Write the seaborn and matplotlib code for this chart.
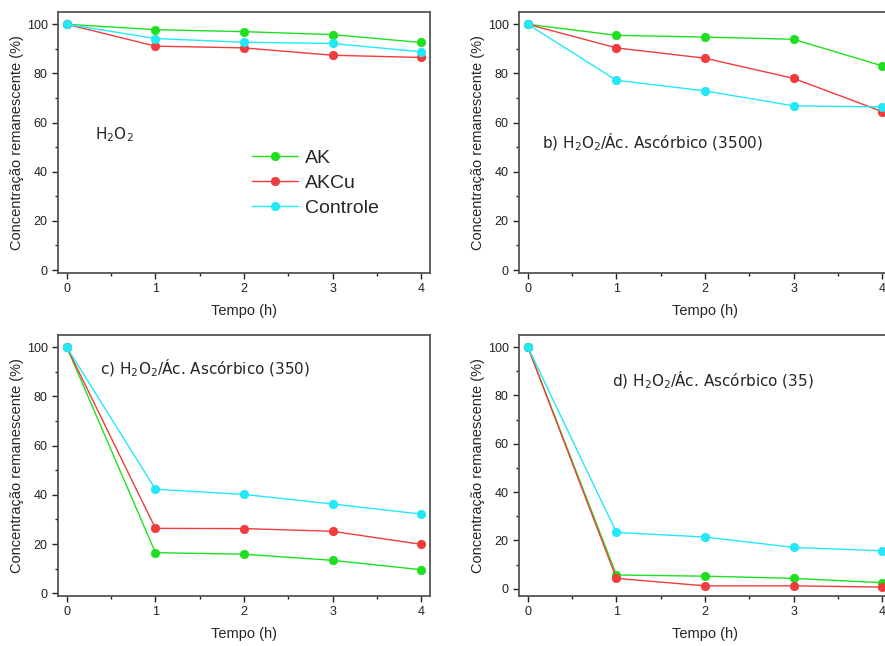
"""Concentração remanescente vs tempo - quatro condições"""

import matplotlib
matplotlib.use('Agg')
import matplotlib.pyplot as plt
from matplotlib.ticker import MultipleLocator
import pandas as pd
import seaborn as sns

tempo = [0, 1, 2, 3, 4]
amostras = ['AK', 'AKCu', 'Controle']
cores = {'AK': '#1fe01f', 'AKCu': '#f03c3c', 'Controle': '#22e8f8'}

# a) H2O2
a_ak = [100, 97.8, 97.0, 95.8, 92.6]
a_akcu = [100, 91.1, 90.4, 87.4, 86.5]
a_controle = [100, 94.2, 92.7, 92.2, 88.8]
# b) H2O2/Ác. Ascórbico (3500)
b_ak = [100, 95.5, 94.8, 93.9, 83.1]
b_akcu = [100, 90.4, 86.2, 78.0, 64.5]
b_controle = [100, 77.2, 72.9, 66.8, 66.4]
# c) H2O2/Ác. Ascórbico (350)
c_ak = [100, 16.5, 15.9, 13.4, 9.6]
c_akcu = [100, 26.4, 26.3, 25.2, 19.9]
c_controle = [100, 42.3, 40.2, 36.3, 32.2]
# d) H2O2/Ác. Ascórbico (35)
d_ak = [100, 5.7, 5.2, 4.3, 2.5]
d_akcu = [100, 4.3, 1.2, 1.2, 0.7]
d_controle = [100, 23.3, 21.4, 17.1, 15.7]

paineis = [
    (a_ak, a_akcu, a_controle, r'H$_2$O$_2$'),
    (b_ak, b_akcu, b_controle, r'b) H$_2$O$_2$/Ác. Ascórbico (3500)'),
    (c_ak, c_akcu, c_controle, r'c) H$_2$O$_2$/Ác. Ascórbico (350)'),
    (d_ak, d_akcu, d_controle, r'd) H$_2$O$_2$/Ác. Ascórbico (35)'),
]

sns.set_style('white')
plt.rcParams['font.family'] = ['Liberation Sans', 'DejaVu Sans']
plt.rcParams['mathtext.default'] = 'regular'

W, H = 885, 646
fig = plt.figure(figsize=(W / 100, H / 100), dpi=100)

# axes boxes in pixels: left, top, right, bottom
caixas = [(58, 12, 430, 273), (519, 12, 891, 273),
          (58, 335, 430, 596), (519, 335, 891, 596)]
ylims = [(-1.2, 105), (-1.2, 105), (-1.1, 105), (-3, 105)]
textos = [(95, 135), (542, 142), (100, 368), (612, 380)]

for i, (ak, akcu, controle, rotulo) in enumerate(paineis):
    l, t, r, b = caixas[i]
    ax = fig.add_axes([l / W, 1 - b / H, (r - l) / W, (b - t) / H])
    df = pd.DataFrame({
        'Tempo': tempo * 3,
        'Valor': ak + akcu + controle,
        'Amostra': [n for n in amostras for _ in tempo],
    })
    sns.lineplot(data=df, x='Tempo', y='Valor', hue='Amostra',
                 palette=cores, marker='o', markersize=6, linewidth=1,
                 markeredgewidth=0.6, ax=ax, legend=(i == 0))
    for linha in ax.lines:
        linha.set_markeredgecolor(linha.get_color())
    ax.set_xlim(-0.1, 4.1)
    ax.set_ylim(*ylims[i])
    ax.xaxis.set_major_locator(MultipleLocator(1))
    ax.xaxis.set_minor_locator(MultipleLocator(0.5))
    ax.yaxis.set_major_locator(MultipleLocator(20))
    ax.yaxis.set_minor_locator(MultipleLocator(10))
    ax.tick_params(which='both', direction='out', bottom=True, left=True,
                   colors='#222222', labelsize=9)
    ax.tick_params(which='major', length=4, width=1)
    ax.tick_params(which='minor', length=2.5, width=1)
    for sp in ax.spines.values():
        sp.set_color('#555555')
        sp.set_linewidth(1.3)
    ax.set_xlabel('Tempo (h)', fontsize=10.5, labelpad=6)
    ax.set_ylabel('Concentração remanescente (%)', fontsize=10.5, labelpad=2)
    tx, ty = textos[i]
    fig.text(tx / W, 1 - ty / H, rotulo, fontsize=11, va='center',
             ha='left', family=['DejaVu Sans'])
    if i == 0:
        ax.legend(title=None, frameon=False, fontsize=14,
                  loc='upper left', bbox_to_anchor=(0.5, 0.505),
                  handlelength=2.4, handletextpad=0.35, labelspacing=0.38,
                  borderaxespad=0)

fig.savefig('out.png', dpi=100)
